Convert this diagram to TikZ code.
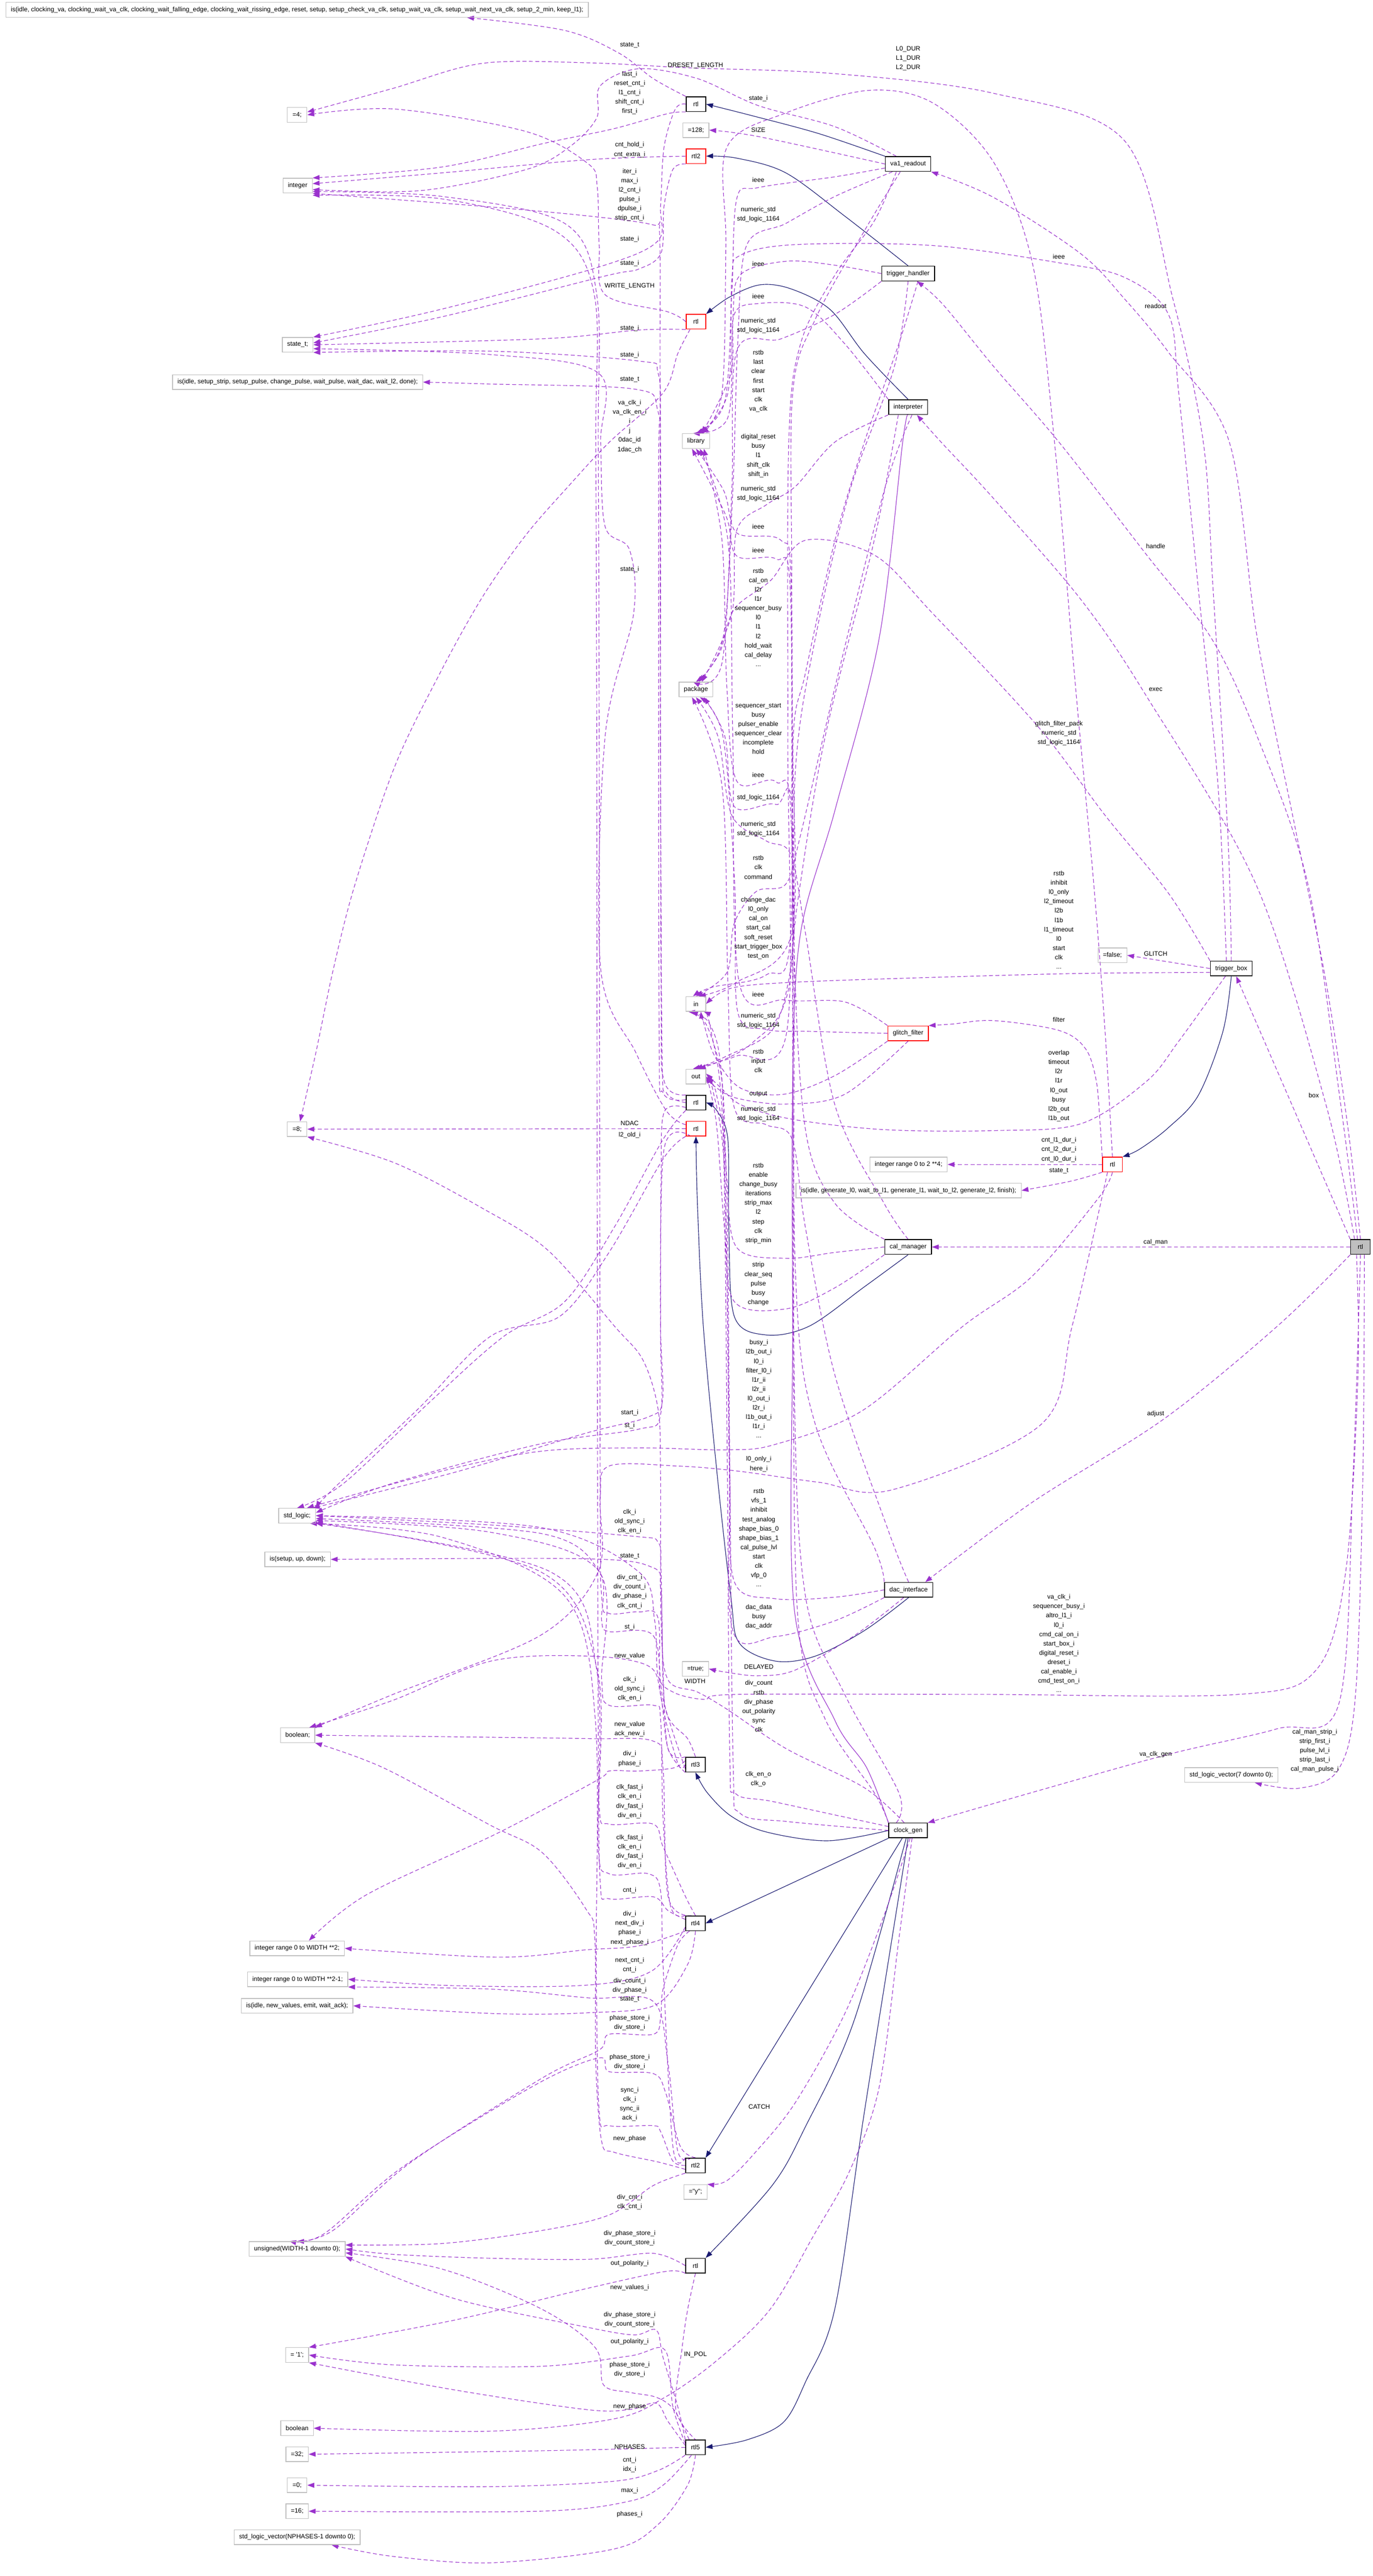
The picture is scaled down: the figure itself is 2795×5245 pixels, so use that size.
\documentclass[tikz,border=0pt]{standalone}
\usepackage{fontspec}
\setmainfont{Liberation Sans}
\usetikzlibrary{arrows.meta,calc}
\pgfdeclarelayer{bg}
\pgfsetlayers{bg,main}
\definecolor{depc}{HTML}{9A32CD}
\definecolor{inhc}{HTML}{191970}
\definecolor{tgrey}{HTML}{BFBFBF}
\tikzset{
 base/.style={rectangle, font=\fontsize{6.5}{7.5}\selectfont, minimum height=15pt, minimum width=20pt, inner xsep=5pt, inner ysep=2pt},
 ent/.style={base, draw=black, line width=0.8pt},
 ered/.style={base, draw=red, line width=0.8pt},
 typ/.style={base, draw=tgrey, line width=0.7pt},
 root/.style={base, draw=black, fill=tgrey, line width=0.8pt},
 lbl/.style={font=\fontsize{6.5}{9.5}\selectfont, align=center, inner sep=0pt},
 depedge/.style={draw=depc, line width=0.6pt, dash pattern=on 4pt off 2.5pt, -{Triangle[length=7pt,width=5pt]}},
 depplain/.style={draw=depc, line width=0.6pt, dash pattern=on 4pt off 2.5pt},
 solp/.style={draw=depc, line width=0.6pt},
 inhedge/.style={draw=inhc, line width=0.6pt, -{Triangle[length=7pt,width=5pt]}},
}
\newcommand\DE[1]{\draw[depedge] plot[smooth,tension=0.55] coordinates {#1};}
\newcommand\IE[1]{\draw[inhedge] plot[smooth,tension=0.55] coordinates {#1};}
\begin{document}
\begin{tikzpicture}[x=0.5pt,y=-0.5pt]
\useasboundingbox (0,0) rectangle (2795,5245);
% ---------------- type nodes (left column)
\node[typ] (t_enum1) at (605,20) {is(idle, clocking\_va, clocking\_wait\_va\_clk, clocking\_wait\_falling\_edge, clocking\_wait\_rissing\_edge, reset, setup, setup\_check\_va\_clk, setup\_wait\_va\_clk, setup\_wait\_next\_va\_clk, setup\_2\_min, keep\_l1);};
\node[typ] (t_eq4) at (605,234) {=4;};
\node[typ] (t_int) at (606,378) {integer};
\node[typ] (t_statet) at (606,702) {state\_t;};
\node[typ] (t_enum2) at (606,778) {is(idle, setup\_strip, setup\_pulse, change\_pulse, wait\_pulse, wait\_dac, wait\_l2, done);};
\node[typ] (t_eq8) at (605,2299) {=8;};
\node[typ] (t_sl) at (605,3086) {std\_logic;};
\node[typ] (t_enum3) at (606,3175) {is(setup, up, down);};
\node[typ] (t_bool1) at (606,3533) {boolean;};
\node[typ] (t_ir2) at (605,3967) {integer range 0 to WIDTH **2;};
\node[typ] (t_ir21) at (606,4030) {integer range 0 to WIDTH **2-1;};
\node[typ] (t_enum4) at (605,4084) {is(idle, new\_values, emit, wait\_ack);};
\node[typ] (t_uns) at (605,4579) {unsigned(WIDTH-1 downto 0);};
\node[typ] (t_one) at (605,4795) {= \textquotesingle 1\textquotesingle;};
\node[typ] (t_bool2) at (605,4944) {boolean};
\node[typ] (t_eq32) at (605,4997) {=32;};
\node[typ] (t_eq0) at (605,5060) {=0;};
\node[typ] (t_eq16) at (605,5113) {=16;};
\node[typ] (t_slvn) at (605,5166) {std\_logic\_vector(NPHASES-1 downto 0);};
% ---------------- middle column
\node[ent] (r_a) at (1417,212) {rtl};
\node[typ] (t_eq128) at (1417,265) {=128;};
\node[ered] (r_th) at (1417,318) {rtl2};
\node[ered] (r_in) at (1417,655) {rtl};
\node[typ] (t_lib) at (1417,898) {library};
\node[typ] (t_pkg) at (1417,1404) {package};
\node[typ] (t_in) at (1417,2044) {in};
\node[typ] (t_out) at (1417,2192) {out};
\node[ent] (r_cal) at (1417,2245) {rtl};
\node[ered] (r_dac) at (1417,2298) {rtl};
\node[typ] (t_true) at (1416,3398) {=true;};
\node[ent] (r_3) at (1416,3593) {rtl3};
\node[ent] (r_4) at (1416,3916) {rtl4};
\node[ent] (r_2b) at (1416,4409) {rtl2};
\node[typ] (t_y) at (1416,4463) {=\textquotedbl y\textquotedbl;};
\node[ent] (r_k) at (1416,4613) {rtl};
\node[ent] (r_5) at (1416,4983) {rtl5};
% ---------------- entity column
\node[ent] (e_va) at (1849,334) {va1\_readout};
\node[ent] (e_th) at (1849,557) {trigger\_handler};
\node[ent] (e_int) at (1849,829) {interpreter};
\node[ered] (e_gf) at (1849,2104) {glitch\_filter};
\node[typ] (t_ir4) at (1850,2371) {integer range 0 to 2 **4;};
\node[typ] (t_enum5) at (1850,2424) {is(idle, generate\_l0, wait\_to\_l1, generate\_l1, wait\_to\_l2, generate\_l2, finish);};
\node[ent] (e_cal) at (1849,2539) {cal\_manager};
\node[ent] (e_dac) at (1850,3237) {dac\_interface};
\node[ent] (e_clk) at (1849,3727) {clock\_gen};
\node[typ] (t_false) at (2265,1945) {=false;};
\node[ered] (r_tb) at (2265,2371) {rtl};
\node[ent] (e_tb) at (2507,1972) {trigger\_box};
\node[typ] (t_slv8) at (2507,3614) {std\_logic\_vector(7 downto 0);};
\node[root] (r_top) at (2770,2539) {rtl};
% ---------------- edge labels, column 1282
\node[lbl] (l1) at (1282,92) {state\_t};
\node[lbl] (l2) at (1416,134) {DRESET\_LENGTH};
\node[lbl] (l3) at (1282,189) {last\_i\\reset\_cnt\_i\\l1\_cnt\_i\\shift\_cnt\_i\\first\_i};
\node[lbl] (l4) at (1282,305) {cnt\_hold\_i\\cnt\_extra\_i};
\node[lbl] (l5) at (1282,397) {iter\_i\\max\_i\\l2\_cnt\_i\\pulse\_i\\dpulse\_i\\strip\_cnt\_i};
\node[lbl] (l6) at (1282,487) {state\_i};
\node[lbl] (l7) at (1282,536) {state\_i};
\node[lbl] (l8) at (1282,583) {WRITE\_LENGTH};
\node[lbl] (l9) at (1282,668) {state\_i};
\node[lbl] (l10) at (1282,723) {state\_i};
\node[lbl] (l11) at (1282,773) {state\_t};
\node[lbl] (l12) at (1282,868) {va\_clk\_i\\va\_clk\_en\_i\\i\\j\\0dac\_id\\1dac\_ch};
\node[lbl] (l13) at (1282,1159) {state\_i};
\node[lbl] (l14) at (1282,2287) {NDAC};
\node[lbl] (l15) at (1282,2311) {l2\_old\_i};
\node[lbl] (l16) at (1282,2877) {start\_i};
\node[lbl] (l17) at (1282,2903) {st\_i};
\node[lbl] (l18) at (1282,3098) {clk\_i\\old\_sync\_i\\clk\_en\_i};
\node[lbl] (l19) at (1282,3169) {state\_t};
\node[lbl] (l20) at (1282,3241) {div\_cnt\_i\\div\_count\_i\\div\_phase\_i\\clk\_cnt\_i};
\node[lbl] (l21) at (1282,3313) {st\_i};
\node[lbl] (l22) at (1282,3372) {new\_value};
\node[lbl] (l23) at (1282,3439) {clk\_i\\old\_sync\_i\\clk\_en\_i};
\node[lbl] (l24) at (1282,3521) {new\_value\\ack\_new\_i};
\node[lbl] (l25) at (1282,3581) {div\_i\\phase\_i};
\node[lbl] (l26) at (1282,3668) {clk\_fast\_i\\clk\_en\_i\\div\_fast\_i\\div\_en\_i};
\node[lbl] (l27) at (1282,3770) {clk\_fast\_i\\clk\_en\_i\\div\_fast\_i\\div\_en\_i};
\node[lbl] (l28) at (1282,3849) {cnt\_i};
\node[lbl] (l29) at (1282,3926) {div\_i\\next\_div\_i\\phase\_i\\next\_phase\_i};
\node[lbl] (l30) at (1282,4001) {next\_cnt\_i\\cnt\_i};
\node[lbl] (l31) at (1282,4043) {div\_count\_i\\div\_phase\_i};
\node[lbl] (l32) at (1282,4071) {state\_t};
\node[lbl] (l33) at (1282,4119) {phase\_store\_i\\div\_store\_i};
\node[lbl] (l34) at (1282,4198) {phase\_store\_i\\div\_store\_i};
\node[lbl] (l35) at (1282,4284) {sync\_i\\clk\_i\\sync\_ii\\ack\_i};
\node[lbl] (l36) at (1282,4355) {new\_phase};
\node[lbl] (l37) at (1282,4484) {div\_cnt\_i\\clk\_cnt\_i};
\node[lbl] (l38) at (1282,4557) {div\_phase\_store\_i\\div\_count\_store\_i};
\node[lbl] (l39) at (1282,4608) {out\_polarity\_i};
\node[lbl] (l40) at (1282,4658) {new\_values\_i};
\node[lbl] (l41) at (1282,4723) {div\_phase\_store\_i\\div\_count\_store\_i};
\node[lbl] (l42) at (1282,4768) {out\_polarity\_i};
\node[lbl] (l43) at (1416,4794) {IN\_POL};
\node[lbl] (l44) at (1282,4825) {phase\_store\_i\\div\_store\_i};
\node[lbl] (l45) at (1282,4900) {new\_phase};
\node[lbl] (l46) at (1282,4982) {NPHASES};
\node[lbl] (l47) at (1282,5019) {cnt\_i\\idx\_i};
\node[lbl] (l48) at (1282,5071) {max\_i};
\node[lbl] (l49) at (1282,5119) {phases\_i};
% ---------------- edge labels, column 1544
\node[lbl] (m1) at (1544,201) {state\_i};
\node[lbl] (m2) at (1544,265) {SIZE};
\node[lbl] (m3) at (1544,366) {ieee};
\node[lbl] (m4) at (1544,437) {numeric\_std\\std\_logic\_1164};
\node[lbl] (m5) at (1544,537) {ieee};
\node[lbl] (m6) at (1544,603) {ieee};
\node[lbl] (m7) at (1544,663) {numeric\_std\\std\_logic\_1164};
\node[lbl] (m8) at (1544,776) {rstb\\last\\clear\\first\\start\\clk\\va\_clk};
\node[lbl] (m9) at (1544,928) {digital\_reset\\busy\\l1\\shift\_clk\\shift\_in};
\node[lbl] (m10) at (1544,1005) {numeric\_std\\std\_logic\_1164};
\node[lbl] (m11) at (1544,1072) {ieee};
\node[lbl] (m12) at (1544,1120) {ieee};
\node[lbl] (m13) at (1544,1257) {rstb\\cal\_on\\l2r\\l1r\\sequencer\_busy\\l0\\l1\\l2\\hold\_wait\\cal\_delay\\...};
\node[lbl] (m14) at (1544,1484) {sequencer\_start\\busy\\pulser\_enable\\sequencer\_clear\\incomplete\\hold};
\node[lbl] (m15) at (1544,1578) {ieee};
\node[lbl] (m16) at (1544,1624) {std\_logic\_1164};
\node[lbl] (m17) at (1544,1688) {numeric\_std\\std\_logic\_1164};
\node[lbl] (m18) at (1544,1766) {rstb\\clk\\command};
\node[lbl] (m19) at (1544,1890) {change\_dac\\l0\_only\\cal\_on\\start\_cal\\soft\_reset\\start\_trigger\_box\\test\_on};
\node[lbl] (m20) at (1544,2025) {ieee};
\node[lbl] (m21) at (1544,2078) {numeric\_std\\std\_logic\_1164};
\node[lbl] (m22) at (1544,2160) {rstb\\input\\clk};
\node[lbl] (m23) at (1544,2228) {output};
\node[lbl] (m24) at (1544,2268) {numeric\_std\\std\_logic\_1164};
\node[lbl] (m25) at (1544,2450) {rstb\\enable\\change\_busy\\iterations\\strip\_max\\l2\\step\\clk\\strip\_min};
\node[lbl] (m26) at (1544,2614) {strip\\clear\_seq\\pulse\\busy\\change};
\node[lbl] (m27) at (1545,2828) {busy\_i\\l2b\_out\_i\\l0\_i\\filter\_l0\_i\\l1r\_ii\\l2r\_ii\\l0\_out\_i\\l2r\_i\\l1b\_out\_i\\l1r\_i\\...};
\node[lbl] (m28) at (1545,2981) {l0\_only\_i\\here\_i};
\node[lbl] (m29) at (1545,3131) {rstb\\vfs\_1\\inhibit\\test\_analog\\shape\_bias\_0\\shape\_bias\_1\\cal\_pulse\_lvl\\start\\clk\\vfp\_0\\...};
\node[lbl] (m30) at (1545,3292) {dac\_data\\busy\\dac\_addr};
\node[lbl] (m31) at (1545,3394) {DELAYED};
\node[lbl] (m32) at (1415,3423) {WIDTH};
\node[lbl] (m33) at (1545,3474) {div\_count\\rstb\\div\_phase\\out\_polarity\\sync\\clk};
\node[lbl] (m34) at (1544,3622) {clk\_en\_o\\clk\_o};
\node[lbl] (m35) at (1546,4290) {CATCH};
% ---------------- edge labels, right part
\node[lbl] (n1) at (1849,119) {L0\_DUR\\L1\_DUR\\L2\_DUR};
\node[lbl] (n2) at (2156,522) {ieee};
\node[lbl] (n3) at (2353,623) {readout};
\node[lbl] (n4) at (2353,1112) {handle};
\node[lbl] (n5) at (2353,1404) {exec};
\node[lbl] (n6) at (2156,1493) {glitch\_filter\_pack\\numeric\_std\\std\_logic\_1164};
\node[lbl] (n7) at (2156,1873) {rstb\\inhibit\\l0\_only\\l2\_timeout\\l2b\\l1b\\l1\_timeout\\l0\\start\\clk\\...};
\node[lbl] (n8) at (2353,1942) {GLITCH};
\node[lbl] (n9) at (2156,2076) {filter};
\node[lbl] (n10) at (2156,2211) {overlap\\timeout\\l2r\\l1r\\l0\_out\\busy\\l2b\_out\\l1b\_out};
\node[lbl] (n11) at (2675,2230) {box};
\node[lbl] (n12) at (2156,2341) {cnt\_l1\_dur\_i\\cnt\_l2\_dur\_i\\cnt\_l0\_dur\_i};
\node[lbl] (n13) at (2156,2384) {state\_t};
\node[lbl] (n14) at (2353,2529) {cal\_man};
\node[lbl] (n15) at (2353,2879) {adjust};
\node[lbl] (n16) at (2156,3346) {va\_clk\_i\\sequencer\_busy\_i\\altro\_l1\_i\\l0\_i\\cmd\_cal\_on\_i\\start\_box\_i\\digital\_reset\_i\\dreset\_i\\cal\_enable\_i\\cmd\_test\_on\_i\\...};
\node[lbl] (n17) at (2677,3565) {cal\_man\_strip\_i\\strip\_first\_i\\pulse\_lvl\_i\\strip\_last\_i\\cal\_man\_pulse\_i};
\node[lbl] (n18) at (2353,3572) {va\_clk\_gen};
% ================= edges
\begin{pgfonlayer}{bg}
% --- architecture (solid navy)
\IE{(e_va.north west) (1667,272) (1533,236) (r_a.east)}
\IE{(e_th.north) (1720,440) (1600,352) (1500,322) (r_th.east)}
\IE{(e_int.north) (1760,720) (1690,630) (1610,588) (1547,580) (1485,605) (r_in.north east)}
\IE{(e_cal.south) (1760,2620) (1648,2700) (1559,2718) (1495,2680) (1484,2500) (1482,2320) (1460,2262) (r_cal.east)}
\IE{(e_dac.south) (1760,3320) (1660,3372) (1578,3382) (1505,3345) (1488,3250) (1460,3000) (1432,2700) (1420,2450) (r_dac.south)}
\IE{(e_clk.west) (1685,3748) (1560,3730) (1489,3698) (1440,3650) (r_3.south)}
\IE{(e_clk.south west) (r_4.east)}
\IE{([xshift=-6pt]e_clk.south) (r_2b.north east)}
\IE{([xshift=-2pt]e_clk.south) (1738,4117) (1640,4330) (1572,4450) (r_k.north east)}
\IE{(e_clk.south) (1760,4300) (1700,4700) (1640,4850) (1595,4932) (1520,4968) (r_5.east)}
\IE{(e_tb.south) (2490,2100) (2440,2230) (2379,2296) (2320,2340) (r_tb.north east)}
\draw[solp] plot[smooth,tension=0.55] coordinates {(e_int.south) (1838,900) (1790,1300) (1700,1650) (1630,1900) (1614,2200) (1614,2700) (1617,3274) (1700,3503) (1765,3600) (e_clk.north west)};
% --- from the root rtl
\DE{(r_top.west) (e_cal.east)}
\DE{(r_top.north west) ([xshift=5pt]e_tb.south)}
\DE{(r_top.north) (2745,2300) (2700,2000) (2640,1700) (2560,1300) (2503,900) (2379,717) (2290,609) (2201,517) (2023,402) (e_va.south east)}
\DE{([xshift=-3pt]r_top.north) (2730,2250) (2663,1800) (2560,1500) (2468,1302) (2334,1129) (2156,900) (2023,746) (1920,620) ([xshift=9pt]e_th.south)}
\DE{([xshift=-6pt]r_top.north) (2700,2250) (2557,1800) (2334,1417) (2201,1221) (2023,1015) (1916,900) ([xshift=9pt]e_int.south)}
\DE{(r_top.south west) (2601,2700) (2370,2889) (2100,3060) ([xshift=17pt]e_dac.north)}
\DE{(r_top.south) (2755,3000) (2726,3469) (2600,3520) (2379,3572) (2100,3650) (e_clk.north east)}
\DE{([xshift=4pt]r_top.south) (2775,3000) (2760,3450) (2725,3603) (2645,3641) ([xshift=24pt]t_slv8.south)}
\DE{([xshift=-4pt]r_top.south) (2765,2800) (2740,3200) (2680,3400) (2521,3450) (2000,3450) (1500,3450) (1434,3460) (1372,3446) (1340,3412) (1333,3300) (1300,3200) (1100,3110) (t_sl.east)}
% --- trigger box
\DE{(e_tb.west) (t_false.east)}
\DE{(e_tb.north) (2500,1700) (2470,1200) (2450,900) (2388,608) (2290,287) (2023,190) (1700,150) (1400,138) (1200,128) (982,129) (800,180) ([yshift=3pt]t_eq4.east)}
\DE{([xshift=-5pt]e_tb.north) (2480,1600) (2440,1200) (2400,800) (2379,640) (2290,565) (2156,535) (1900,500) (1620,498) (1507,520) (1490,570) (1482,800) ([xshift=3pt]t_lib.north)}
\DE{(e_tb.north west) (2380,1820) (2250,1660) (2114,1480) (1900,1250) (1780,1130) (1640,1100) (1569,1182) (1495,1240) (1465,1330) ([xshift=3pt]t_pkg.north)}
\DE{([yshift=-4pt]e_tb.west) (2200,1982) (1900,1990) (1614,2000) (1489,2012) (t_in.east)}
\DE{([xshift=-6pt]e_tb.south) (2400,2120) (2334,2202) (2201,2288) (2023,2302) (1800,2300) (1614,2279) (1510,2250) (1468,2215) ([yshift=3pt]t_out.east)}
% --- rtl of trigger box
\DE{(r_tb.north west) (2240,2290) (2232,2200) (2210,2135) (2156,2098) (2023,2078) (1940,2085) (e_gf.north east)}
\DE{(r_tb.west) (t_ir4.east)}
\DE{(r_tb.south west) (2180,2405) (t_enum5.east)}
\DE{(r_tb.north) (2250,2100) (2227,1800) (2190,1400) (2147,900) (2103,540) (2023,330) (1900,210) (1769,184) (1600,230) (1480,300) (1478,500) (1470,800) ([xshift=6pt]t_lib.north)}
\DE{(r_tb.south) (2236,2440) (2100,2600) (1961,2700) (1756,2872) (1578,2941) (1480,2952) (1300,2948) (1100,2955) (900,2995) ([xshift=10pt]t_sl.north)}
\DE{([xshift=-5pt]r_tb.south) (2183,2700) (2120,2900) (1818,3033) (1667,3018) (1500,2995) (1380,2985) (1240,2985) (1222,3050) (1218,3200) (1100,3330) (800,3450) (t_bool1.north east)}
% --- glitch filter
\DE{(e_gf.south west) (1700,2190) (1596,2228) (1507,2215) (1455,2150) (1432,2080) ([xshift=5pt]t_in.south)}
\DE{(e_gf.south) (1720,2228) (1600,2248) (1500,2236) (1455,2212) (t_out.east)}
\DE{(e_gf.north west) (1720,2040) (1600,2036) (1505,2000) (1492,1500) (1482,1100) ([xshift=4pt]t_lib.south)}
\DE{(e_gf.west) (1650,2100) (1560,2096) (1502,2060) (1496,1800) (1472,1500) ([xshift=4pt]t_pkg.south)}
% --- va1_readout
\DE{(e_va.west) (1544,278) (t_eq128.east)}
\DE{([yshift=-4pt]e_va.west) (1700,360) (1544,382) (1500,405) (1490,600) (1475,820) (t_lib.north)}
\DE{([xshift=-16pt]e_va.south) (1700,400) (1600,455) (1520,500) (1502,700) (1492,1000) (1472,1300) (t_pkg.north)}
\DE{([xshift=-8pt]e_va.south) (1760,470) (1660,650) (1614,800) (1612,1200) (1610,1900) (1560,1985) (1450,2010) ([xshift=-3pt]t_in.north)}
\DE{([xshift=-12pt]e_va.south) (1780,450) (1700,560) (1630,700) (1606,900) (1604,1500) (1602,2100) (1500,2150) ([xshift=-3pt]t_out.north)}
\DE{([xshift=-12pt]e_va.north) (1700,258) (1544,215) (1420,160) (1300,140) (1222,175) (1215,240) (1161,298) (1072,345) (857,388) ([yshift=-4pt]t_int.east)}
% --- trigger_handler
\DE{(e_th.west) (1700,540) (1600,532) (1507,560) (1492,650) (1482,850) ([xshift=-3pt]t_lib.north)}
\DE{(e_th.south west) (1700,640) (1590,690) (1500,715) (1490,1000) (1470,1350) ([xshift=-3pt]t_pkg.north)}
\DE{([xshift=10pt]e_th.south) (1830,700) (1760,900) (1700,1100) (1640,1370) (1615,1500) (1612,1900) (1500,2000) ([xshift=3pt]t_in.north)}
\DE{(e_th.south) (1820,750) (1730,1000) (1660,1300) (1620,1560) (1608,2000) (1530,2125) ([xshift=3pt]t_out.north)}
% --- interpreter
\DE{(e_int.north west) (1720,700) (1640,625) (1544,618) (1495,640) (1488,760) ([xshift=6pt]t_lib.north)}
\DE{(e_int.south west) (1700,900) (1620,990) (1560,1028) (1500,1080) (1490,1250) ([xshift=6pt]t_pkg.north)}
\DE{([xshift=4pt]e_int.south) (1800,1000) (1700,1400) (1630,1700) (1600,1800) (1540,1815) (1495,1880) (1480,1980) (t_in.north)}
\DE{([xshift=-10pt]e_int.south) (1780,1100) (1680,1500) (1625,1830) (1605,2000) (1570,2100) (1480,2150) (t_out.north)}
% --- cal_manager
\DE{(e_cal.north west) (1700,2450) (1640,2300) (1616,1900) (1611,1200) (1590,1100) (1500,1085) (1474,1000) (t_lib.south)}
\DE{(e_cal.north) (1800,2450) (1700,2250) (1640,1900) (1610,1740) (1560,1712) (1490,1660) (1462,1500) (t_pkg.south)}
\DE{(e_cal.west) (1700,2550) (1600,2562) (1500,2540) (1480,2400) (1470,2200) (1440,2090) ([xshift=-5pt]t_in.south)}
\DE{(e_cal.south west) (1700,2622) (1600,2665) (1495,2650) (1475,2500) (1460,2300) (1445,2215) ([yshift=-3pt]t_out.east)}
% --- dac_interface
\DE{(e_dac.north west) (1780,3150) (1660,2900) (1620,2600) (1613,1800) (1609,1200) (1580,1138) (1500,1132) (1478,1050) ([xshift=-4pt]t_lib.south)}
\DE{(e_dac.north) (1810,3120) (1700,2800) (1640,2500) (1613,2320) (1560,2290) (1495,2255) (1482,2000) (1470,1600) ([xshift=-4pt]t_pkg.south)}
\DE{(e_dac.west) (1700,3252) (1578,3255) (1495,3220) (1486,3000) (1480,2600) (1470,2200) (1445,2085) ([xshift=-8pt]t_in.south)}
\DE{(e_dac.south west) (1700,3300) (1580,3332) (1492,3320) (1485,3000) (1476,2400) (1452,2222) ([yshift=-5pt]t_out.east)}
\DE{([xshift=-5pt]e_dac.south) (1740,3330) (1620,3400) (1545,3412) (1480,3405) (t_true.east)}
% --- clock_gen
\DE{(e_clk.north west) (1780,3650) (1680,3500) (1625,3300) (1615,2700) (1612,1700) (1580,1592) (1500,1590) (1480,1400) (1470,1100) ([xshift=8pt]t_lib.south)}
\DE{([xshift=8pt]e_clk.north west) (1830,3650) (1720,3450) (1640,3250) (1617,2800) (1615,1700) (1580,1638) (1495,1642) (1476,1500) ([xshift=8pt]t_pkg.south)}
\DE{([yshift=4pt]e_clk.west) (1578,3669) (1498,3652) (1486,3580) (1481,3000) (1472,2300) (1448,2100) ([xshift=8pt]t_in.south)}
\DE{(e_clk.west) (1605,3709) (1507,3692) (1493,3600) (1486,3000) (1479,2400) (1458,2225) ([yshift=-6pt]t_out.east)}
\DE{([xshift=2pt]e_clk.south) (1800,3900) (1720,4100) (1620,4280) (1540,4380) (1480,4440) (t_y.north east)}
\DE{([xshift=4pt]e_clk.south) (1830,3950) (1790,4250) (1730,4420) (1657,4551) (1568,4702) (1461,4805) (1354,4881) (1250,4925) (1000,4950) (t_bool2.east)}
\DE{([xshift=16pt]e_clk.north west) (1760,3640) (1600,3560) (1480,3480) (1420,3445) (1360,3420) (1346,3300) (1345,3000) (1340,2870) (1309,2769) (1251,2700) (1116,2546) (982,2460) (804,2368) (t_eq8.south east)}
% --- rtl (va1_readout)
\DE{(r_a.north west) (1330,160) (1260,108) (1150,62) ([xshift=173pt]t_enum1.south)}
\DE{(r_a.south west) (1357,232) (1250,262) (1107,292) (900,340) (t_int.north east)}
\DE{(r_a.west) (1375,222) (1352,300) (1345,420) (1338,492) (1215,545) (893,631) (t_statet.north east)}
% --- rtl2 (trigger_handler)
\DE{(r_th.west) (1200,325) (900,352) ([yshift=2pt]t_int.east)}
\DE{(r_th.south west) (1370,345) (1352,420) (1346,515) (1300,548) (1232,562) (900,645) ([yshift=2pt]t_statet.east)}
% --- rtl (interpreter)
\DE{(r_in.west) (1360,635) (1232,600) (1220,500) (1216,380) (1197,333) (1072,268) (804,222) (t_eq4.east)}
\DE{(r_in.south west) (1300,672) (1100,690) (t_statet.east)}
\DE{([xshift=-6pt]r_in.south) (1380,720) (1350,800) (1241,900) (1161,986) (1071,1089) (982,1216) (893,1376) (804,1560) (723,1800) (679,1972) (643,2144) ([xshift=3pt]t_eq8.north)}
% --- rtl (cal_manager)
\DE{(r_cal.north west) (1352,2200) (1346,2000) (1344,800) (1343,480) (1330,458) (1200,440) (982,420) (t_int.south east)}
\DE{(r_cal.west) (1357,2225) (1348,2144) (1345,1500) (1345,900) (1340,760) (1300,735) (1000,715) (t_statet.south east)}
\DE{([yshift=3pt]r_cal.west) (1350,2225) (1342,2100) (1341,1000) (1339,835) (1290,792) (1000,782) (t_enum2.east)}
\DE{(r_cal.south west) (1350,2320) (1250,2500) (1150,2650) (1027,2720) (880,2850) (700,3020) (t_sl.north)}
\DE{([yshift=-5pt]r_cal.west) (1352,2265) (1346,2400) (1345,2700) (1349,2850) (1320,2885) (1193,2918) (925,2998) ([xshift=16pt]t_sl.north)}
% --- rtl (dac_interface)
\DE{(r_dac.west) (t_eq8.east)}
\DE{([yshift=4pt]r_dac.west) (1357,2262) (1295,2144) (1223,1972) (1232,1500) (1290,1250) (1282,1120) (1232,1072) (1223,900) (1219,760) (1000,722) ([yshift=-4pt]t_statet.east)}
\DE{(r_dac.south west) (1350,2360) (1240,2550) (1140,2680) (1000,2720) (850,2870) (680,3030) (t_sl.north east)}
\DE{([xshift=-5pt]r_dac.south) (1352,2340) (1345,2700) (1345,2880) (1300,2910) (1100,2940) (800,3020) ([yshift=3pt]t_sl.east)}
% --- rtl3
\DE{(r_3.north west) (1360,3560) (1350,3400) (1346,3200) (1340,3140) (1290,3128) (1000,3105) (t_sl.east)}
\DE{(r_3.north) (1400,3540) (1355,3480) (1348,3300) (1345,3230) (1330,3192) (1200,3174) (t_enum3.east)}
\DE{(r_3.west) (1380,3590) (1345,3450) (1340,3295) (1300,3282) (1240,3285) (1225,3250) (1222,3000) (1220,1500) (1218,900) (1215,600) (1150,455) (900,400) ([yshift=-6pt]t_int.east)}
\DE{([yshift=-4pt]r_3.west) (1350,3460) (1330,3330) (1240,3322) (1225,3300) (1220,3200) (1100,3122) ([yshift=-3pt]t_sl.east)}
\DE{(r_3.south west) (1360,3560) (1345,3450) (1320,3392) (1200,3372) (1000,3382) (800,3462) ([xshift=-6pt]t_bool1.north east)}
\DE{([yshift=4pt]r_3.west) (1370,3600) (1300,3606) (1240,3606) (1215,3625) (1014,3732) (746,3858) ([xshift=12pt]t_ir2.north)}
% --- rtl4
\DE{(r_4.north west) (1365,3880) (1350,3700) (1345,3500) (1330,3472) (1240,3472) (1225,3420) (1220,3200) (1000,3120) ([yshift=-5pt]t_sl.east)}
\DE{([xshift=-4pt]r_4.north) (1360,3860) (1350,3600) (1330,3545) (1200,3540) (900,3536) (t_bool1.east)}
\DE{(r_4.north) (1395,3860) (1350,3760) (1330,3714) (1240,3714) (1220,3680) (1216,3400) (1100,3200) ([yshift=-7pt]t_sl.east)}
\DE{([yshift=4pt]r_4.west) (1360,3890) (1330,3862) (1240,3866) (1222,3830) (1218,3500) (1216,2500) (1215,1500) (1213,900) (1210,600) (1130,470) (900,405) ([yshift=-2pt]t_int.south east)}
\DE{(r_4.south west) (1300,3962) (1193,3970) (1014,3985) (t_ir2.east)}
\DE{([yshift=-4pt]r_4.west) (1327,4013) (1193,4042) (925,4043) (t_ir21.east)}
\DE{(r_4.south) (1400,4000) (1335,4082) (1200,4098) (1014,4100) (t_enum4.east)}
\DE{([xshift=-6pt]r_4.south) (1380,3960) (1350,4050) (1345,4110) (1330,4142) (1240,4142) (1220,4174) (1104,4231) (836,4403) (680,4540) (t_uns.north)}
% --- rtl2 (clock_gen)
\DE{(r_2b.north west) (1370,4370) (1350,4000) (1345,3850) (1320,3815) (1240,3815) (1218,3760) (1215,3400) (1120,3200) (t_sl.south east)}
\DE{([xshift=-4pt]r_2b.north) (1380,4380) (1360,4200) (1330,4075) (1200,4068) (1000,4050) (t_ir21.south east)}
\DE{(r_2b.north) (1385,4370) (1355,4260) (1330,4222) (1240,4218) (1220,4190) (1090,4245) (820,4412) (660,4548) ([xshift=-8pt]t_uns.north)}
\DE{(r_2b.west) (1370,4400) (1345,4340) (1330,4328) (1240,4328) (1220,4300) (1214,4000) (1212,3500) (1150,3250) (900,3130) ([xshift=-6pt]t_sl.south east)}
\DE{([yshift=-4pt]r_2b.west) (1340,4402) (1250,4382) (1225,4360) (1213,4200) (1211,3945) (1193,3887) (1104,3772) (996,3715) (782,3600) (t_bool1.south east)}
\DE{(r_2b.south west) (1330,4450) (1240,4510) (1100,4542) (900,4568) ([yshift=4pt]t_uns.east)}
% --- rtl (clock_gen)
\DE{(r_k.west) (1330,4588) (1200,4600) (1000,4598) (800,4590) (t_uns.east)}
\DE{(r_k.south west) (1354,4625) (1193,4660) (925,4724) (t_one.north east)}
\draw[depplain] plot[smooth,tension=0.55] coordinates {(r_k.south) (1400,4703) (1389,4779) (1376,4906) (r_5.north)};
% --- rtl5
\DE{([xshift=4pt]r_5.north west) (1372,4906) (1336,4881) (1282,4871) (1229,4856) (1212,4780) (1100,4700) (900,4620) ([yshift=-4pt]t_uns.east)}
\DE{(r_5.north west) (1380,4900) (1350,4800) (1336,4744) (1291,4754) (1193,4738) (925,4680) (t_uns.south east)}
\DE{([yshift=4pt]r_5.west) (1370,4900) (1354,4785) (1282,4797) (1100,4818) (800,4815) (t_one.east)}
\DE{([yshift=2pt]r_5.west) (1360,4930) (1336,4893) (1282,4906) (1193,4906) (925,4866) (t_one.south east)}
\DE{(r_5.west) (1100,4990) (t_eq32.east)}
\DE{(r_5.south west) (1340,5030) (1250,5052) (1000,5063) (t_eq0.east)}
\DE{([xshift=-4pt]r_5.south) (1350,5060) (1280,5093) (1100,5113) (t_eq16.east)}
\DE{(r_5.south) (1400,5060) (1340,5140) (1250,5190) (1000,5218) (800,5205) ([xshift=35pt]t_slvn.south)}
\end{pgfonlayer}
\end{tikzpicture}
\end{document}
